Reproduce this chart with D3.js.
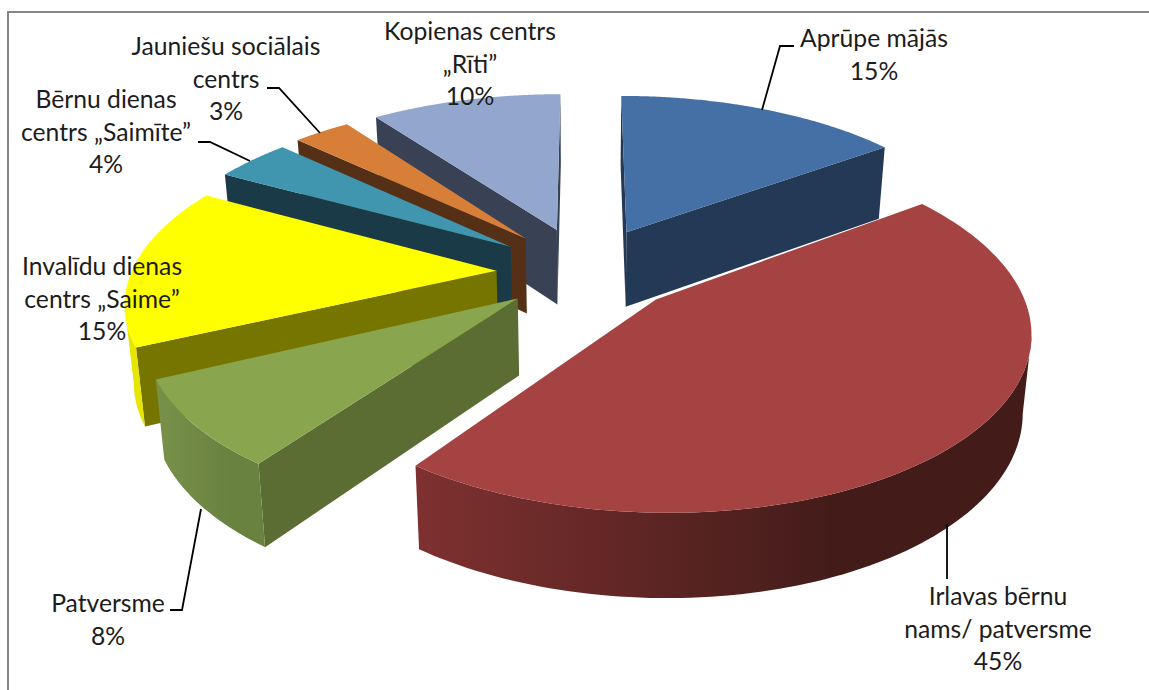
<!DOCTYPE html>
<html>
<head>
<meta charset="utf-8">
<script src="https://cdnjs.cloudflare.com/ajax/libs/d3/7.8.5/d3.min.js"></script>
<style>
html, body { margin: 0; padding: 0; background: #fff; }
svg { display: block; }
text { font-family: Lato, "Open Sans", sans-serif; font-size: 24.7px; fill: #1c1c1c; text-anchor: middle; }
</style>
</head>
<body>
<div id="chart"></div>
<script>
// Data
const categories = ["Aprūpe mājās", "Irlavas bērnu nams/ patversme", "Patversme", "Invalīdu dienas centrs „Saime”",
    "Bērnu dienas centrs „Saimīte”", "Jauniešu sociālais centrs", "Kopienas centrs „Rīti”"];
const shares = [15, 45, 8, 15, 4, 3, 10];

// Colours, same order as the categories
const topColors = ["#4470a5", "#a54342", "#89a54e", "#ffff00", "#3f96ae", "#d77f39", "#92a6ce"];
const wallColors = ["#243955", "#421c1a", "#5c6d33", "#757500", "#1a3a47", "#562f17", "#394155"];
const rimLight = ["#243955", "#7e3130", "#78914a", "#e6e600", "#1a3a47", "#562f17", "#394155"];
const rimDark = ["#243955", "#431c1a", "#6a8240", "#e6e600", "#1a3a47", "#562f17", "#394155"];

// back to front
const drawOrder = [6, 0, 5, 4, 3, 2, 1];

// hand fitted per slice, the real chart's perspective is a bit off a plain projection
const sliceShift = [[0, 0], [3, 3], [-1, 5], [-4, 5], [-8, 3], [-6, 1], [-5, 0]];
const sliceStretch = [1, 0.982, 0.98, 1, 1, 1, 1];
const stretchAbout = [0, 720, 517, 0, 0, 0, 0];

const width = 1149, height = 690;
const explode = 0.24;
const persp = 0.161;          // how fast things shrink towards the back
const cx = 588, cy = 267;
const scaleX = 365, scaleY = 168.5;

const svg = d3.select("#chart").append("svg")
    .attr("width", width)
    .attr("height", height);

const defs = svg.append("defs");

// frame of the pasted chart, only top and left are in the crop
svg.append("path")
    .attr("d", `M8,${height} V12 H${width}`)
    .attr("fill", "none")
    .attr("stroke", "#868686")
    .attr("stroke-width", 2);

const x = d3.scaleLinear().domain([0, 1]).range([cx, cx + scaleX]);
const y = d3.scaleLinear().domain([0, 1]).range([cy, cy - scaleY]);

// world point on the top face -> screen
function project(p) {
    const s = 1 / (1 + persp * p[1]);
    return [x(p[0] * s), y(p[1] * s)];
}

// same world point on the bottom face
function projectBottom(p) {
    const s = 1 / (1 + persp * p[1]);
    const top = project(p);
    return [cx + (top[0] - cx) * 0.98, top[1] + 36 + 40 * s];
}

const eye = [0, -1 / persp];
function facesEye(normal, point) {
    return normal[0] * (eye[0] - point[0]) + normal[1] * (eye[1] - point[1]) > 0;
}

const dir = a => [Math.sin(a), Math.cos(a)];
const line = d3.line();

const pie = d3.pie().sort(null);
const slices = pie(shares);

drawOrder.forEach(i => {
    const d = slices[i];
    const mid = (d.startAngle + d.endAngle) / 2;
    const m = dir(mid);
    const apex = [m[0] * explode, m[1] * explode];
    const rimAt = a => { const v = dir(a); return [apex[0] + v[0], apex[1] + v[1]]; };
    const g = svg.append("g")
        .attr("class", "slice")
        .attr("transform", `translate(${sliceShift[i][0] + stretchAbout[i]},${sliceShift[i][1]}) scale(${sliceStretch[i]},1) translate(${-stretchAbout[i]},0)`);

    // radial walls
    [[d.startAngle, -Math.PI / 2], [d.endAngle, Math.PI / 2]].forEach(([a, off]) => {
        const edge = rimAt(a);
        if (facesEye(dir(a + off), apex)) {
            g.append("path")
                .attr("d", line([project(apex), project(edge), projectBottom(edge), projectBottom(apex)]) + "Z")
                .attr("fill", wallColors[i]);
        }
    });

    // outer rim, only the part turned to the viewer
    const arcAngles = d3.range(0, 121).map(k => d.startAngle + (d.endAngle - d.startAngle) * k / 120);
    const rimAngles = arcAngles.filter(a => facesEye(dir(a), rimAt(a)));
    if (rimAngles.length > 1) {
        const topEdge = rimAngles.map(a => project(rimAt(a)));
        const bottomEdge = rimAngles.map(a => projectBottom(rimAt(a))).reverse();
        const rimX = d3.extent(topEdge.concat(bottomEdge), p => p[0]);
        const grad = defs.append("linearGradient")
            .attr("id", "rim" + i)
            .attr("gradientUnits", "userSpaceOnUse")
            .attr("x1", rimX[0]).attr("x2", rimX[1])
            .attr("y1", 0).attr("y2", 0);
        grad.append("stop").attr("offset", 0).attr("stop-color", rimLight[i]);
        grad.append("stop").attr("offset", 0.68).attr("stop-color", rimDark[i]);
        g.append("path")
            .attr("d", line(topEdge.concat(bottomEdge)) + "Z")
            .attr("fill", `url(#rim${i})`);
    }

    // top face
    const topPts = [project(apex)].concat(arcAngles.map(a => project(rimAt(a))));
    g.append("path")
        .attr("d", line(topPts) + "Z")
        .attr("fill", topColors[i]);
});

// Leader lines
const leaders = [
    [[762, 110], [780, 46], [794, 46]],
    [[947, 524], [947, 579]],
    [[201, 509], [182, 610], [170, 610]],
    [[250, 161], [210, 142], [198, 142]],
    [[320, 133], [279, 88], [267, 88]]
];
svg.selectAll(".leader")
    .data(leaders)
    .enter()
    .append("path")
    .attr("class", "leader")
    .attr("d", d => line(d))
    .attr("fill", "none")
    .attr("stroke", "#000")
    .attr("stroke-width", 1.8);

// Labels
const labelLines = [
    ["Aprūpe mājās", "15%"],
    ["Irlavas bērnu", "nams/ patversme", "45%"],
    ["Patversme", "8%"],
    ["Invalīdu dienas", "centrs „Saime”", "15%"],
    ["Bērnu dienas", "centrs „Saimīte”", "4%"],
    ["Jauniešu sociālais", "centrs", "3%"],
    ["Kopienas centrs", "„Rīti”", "10%"]
];
const labelAt = [[874, 47], [998, 605], [108, 612], [102, 275], [106, 108], [226, 55], [470, 40]];

labelLines.forEach((lines, i) => {
    const t = svg.append("text")
        .attr("transform", `translate(${labelAt[i][0]},${labelAt[i][1]})`);
    lines.forEach((s, k) => {
        t.append("tspan").attr("x", 0).attr("y", k * 32.5).text(s);
    });
});
</script>
</body>
</html>
